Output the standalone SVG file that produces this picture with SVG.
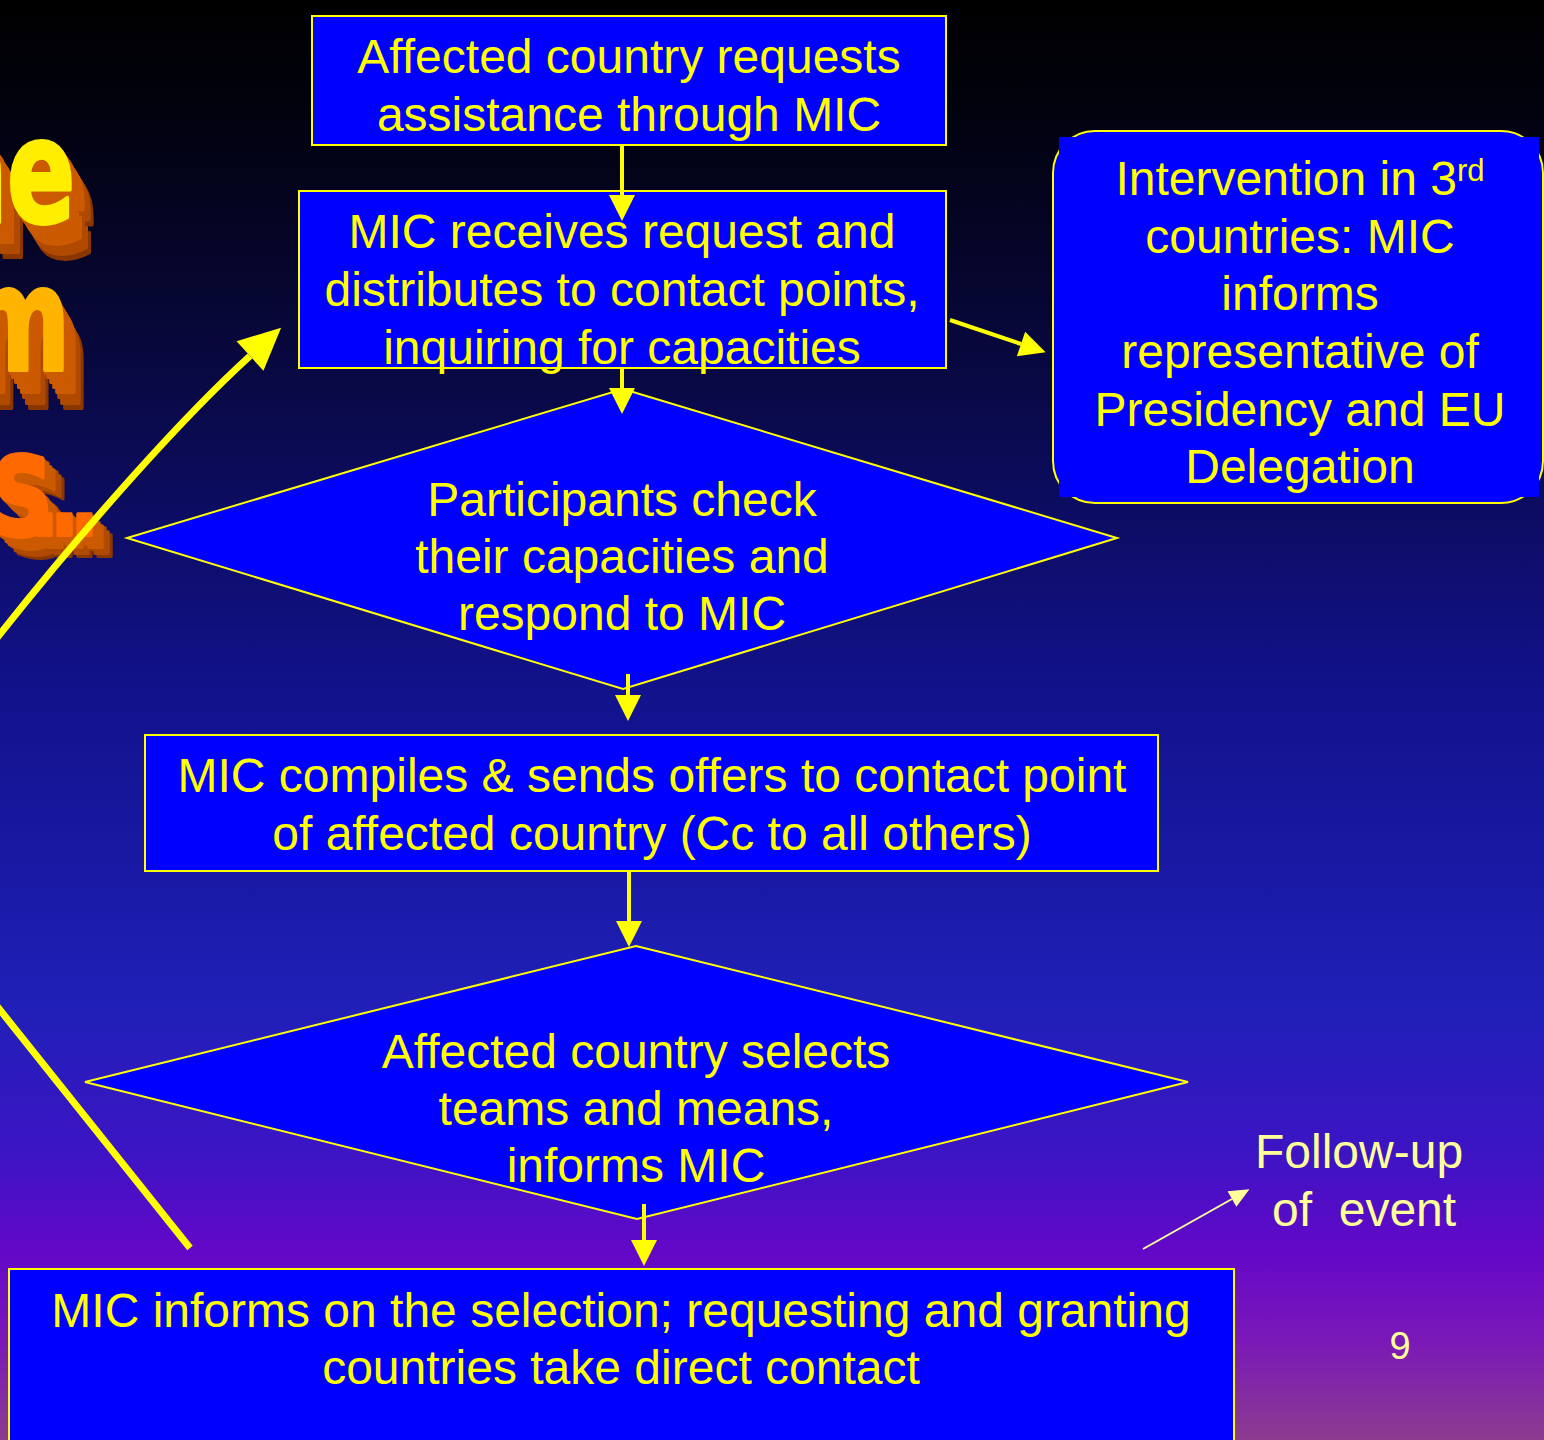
<svg xmlns="http://www.w3.org/2000/svg" xmlns:xlink="http://www.w3.org/1999/xlink" width="1544" height="1440" viewBox="0 0 1544 1440">
<defs>
<linearGradient id="bg" x1="0" y1="0" x2="0" y2="1">
<stop offset="0" stop-color="#000000"/>
<stop offset="0.08" stop-color="#02020f"/>
<stop offset="0.2" stop-color="#060630"/>
<stop offset="0.3" stop-color="#0a0a50"/>
<stop offset="0.48" stop-color="#12128c"/>
<stop offset="0.62" stop-color="#1a1aa8"/>
<stop offset="0.7" stop-color="#2020b8"/>
<stop offset="0.8" stop-color="#3c14c4"/>
<stop offset="0.87" stop-color="#6408c8"/>
<stop offset="0.93" stop-color="#7a18b8"/>
<stop offset="1" stop-color="#8c3c90"/>
</linearGradient>
<marker id="ah" viewBox="0 -16 32 32" markerWidth="32" markerHeight="32" refX="0" refY="0" orient="auto" markerUnits="userSpaceOnUse" overflow="visible">
<path d="M0,-13 L26,0 L0,13 Z" fill="#ffff00"/>
</marker>
<marker id="ahBig" viewBox="0 -24 48 48" markerWidth="48" markerHeight="48" refX="0" refY="0" orient="auto" markerUnits="userSpaceOnUse" overflow="visible">
<path d="M0,-20 L42,0 L0,20 Z" fill="#ffff00"/>
</marker>
<marker id="ahThin" viewBox="0 -12 24 24" markerWidth="24" markerHeight="24" refX="0" refY="0" orient="auto" markerUnits="userSpaceOnUse" overflow="visible">
<path d="M0,-9 L20,0 L0,9 Z" fill="#ffff99"/>
</marker>
<text id="w1" x="0" y="0" class="wa">ne</text>
<text id="w2" x="0" y="0" class="wa">m</text>
<text id="w3" y="0" class="wa ws"><tspan x="-8">s</tspan><tspan x="30" font-size="85">.</tspan><tspan x="50" font-size="85">.</tspan><tspan x="70" font-size="85">.</tspan></text>
</defs>
<style>
.box{fill:#0000ff;stroke:#ffff00;stroke-width:2}
.t{font-family:"Liberation Sans",Arial,sans-serif;font-size:48px;fill:#ffff00;text-anchor:middle}
.p{font-family:"Liberation Sans",Arial,sans-serif;font-size:48px;fill:#ffff99}
.wa{font-family:"Liberation Sans Narrow","DejaVu Sans Condensed",sans-serif;font-stretch:condensed;font-weight:bold;font-size:111px;text-anchor:end;stroke-width:3;stroke-linejoin:round}
.ws{text-anchor:start}
.ln{stroke:#ffff00;stroke-width:4;fill:none}
.ex1{fill:#8a3600;stroke:#8a3600}
.ex2{fill:#b04a00;stroke:#b04a00}
.ex3{fill:#cc5a00;stroke:#cc5a00}
.f1{fill:#ffee00;stroke:#ffee00}
.f2{fill:#ffb400;stroke:#ffb400}
.f3{fill:#ff6a00;stroke:#ff6a00}
</style>
<rect x="0" y="0" width="1544" height="1440" fill="url(#bg)"/>

<g id="wordart">
<g transform="translate(75,222) scale(1,1.3)">
<use xlink:href="#w1" x="22" y="27" class="ex1"/>
<use xlink:href="#w1" x="19" y="23" class="ex2"/>
<use xlink:href="#w1" x="16" y="19" class="ex2"/>
<use xlink:href="#w1" x="13" y="15" class="ex3"/>
<use xlink:href="#w1" x="10" y="12" class="ex3"/>
<use xlink:href="#w1" x="7" y="8" class="ex3"/>
<use xlink:href="#w1" x="4" y="5" class="ex3"/>
<use xlink:href="#w1" x="2" y="2" class="ex3"/>
<use xlink:href="#w1" class="f1"/>
</g>
<g transform="translate(70,370) scale(1,1.3)">
<use xlink:href="#w2" x="20" y="29" class="ex1"/>
<use xlink:href="#w2" x="17" y="25" class="ex2"/>
<use xlink:href="#w2" x="14" y="21" class="ex2"/>
<use xlink:href="#w2" x="12" y="17" class="ex3"/>
<use xlink:href="#w2" x="9" y="13" class="ex3"/>
<use xlink:href="#w2" x="6" y="9" class="ex3"/>
<use xlink:href="#w2" x="3" y="5" class="ex3"/>
<use xlink:href="#w2" x="1" y="2" class="ex3"/>
<use xlink:href="#w2" class="f2"/>
</g>
<g transform="translate(0,535) scale(1,1.3)">
<use xlink:href="#w3" x="20" y="16" class="ex1"/>
<use xlink:href="#w3" x="17" y="14" class="ex2"/>
<use xlink:href="#w3" x="14" y="11" class="ex2"/>
<use xlink:href="#w3" x="11" y="9" class="ex3"/>
<use xlink:href="#w3" x="8" y="7" class="ex3"/>
<use xlink:href="#w3" x="5" y="4" class="ex3"/>
<use xlink:href="#w3" x="2" y="2" class="ex3"/>
<use xlink:href="#w3" class="f3"/>
</g>
</g>

<g id="n1">
<rect class="box" x="312" y="16" width="634" height="129"/>
<text class="t" x="629" y="73">Affected country requests</text>
<text class="t" x="629" y="131">assistance through MIC</text>
</g>
<g id="n2">
<rect class="box" x="299" y="191" width="647" height="177"/>
<text class="t" x="622" y="248">MIC receives request and</text>
<text class="t" x="622" y="306">distributes to contact points,</text>
<text class="t" x="622" y="364">inquiring for capacities</text>
</g>
<g id="n3">
<polygon class="box" points="623,389 1117,538 623,689 127,538"/>
<text class="t" x="622" y="516">Participants check</text>
<text class="t" x="622" y="573">their capacities and</text>
<text class="t" x="622" y="630">respond to MIC</text>
</g>
<g id="n4">
<rect class="box" x="145" y="735" width="1013" height="136"/>
<text class="t" x="652" y="792">MIC compiles &amp; sends offers to contact point</text>
<text class="t" x="652" y="850">of affected country (Cc to all others)</text>
</g>
<g id="n5">
<polygon class="box" points="636,946 1188,1082 637,1219 85,1082"/>
<text class="t" x="636" y="1068">Affected country selects</text>
<text class="t" x="636" y="1125">teams and means,</text>
<text class="t" x="636" y="1182">informs MIC</text>
</g>
<g id="n6">
<rect class="box" x="9" y="1269" width="1225" height="200"/>
<text class="t" x="621" y="1327">MIC informs on the selection; requesting and granting</text>
<text class="t" x="621" y="1384">countries take direct contact</text>
</g>
<g id="n7">
<rect x="1053" y="131" width="490" height="372" rx="42" ry="42" fill="#0000ff" stroke="#ffff00" stroke-width="2"/>
<rect x="1059" y="137" width="480" height="360" fill="#0000ff"/>
<text class="t" x="1300" y="195">Intervention in 3<tspan font-size="31" dy="-14">rd</tspan></text>
<text class="t" x="1300" y="253">countries: MIC</text>
<text class="t" x="1300" y="310">informs</text>
<text class="t" x="1300" y="368">representative of</text>
<text class="t" x="1300" y="426">Presidency and EU</text>
<text class="t" x="1300" y="483">Delegation</text>
</g>
<g id="n8">
<text class="p" x="1255" y="1168">Follow-up</text>
<text class="p" x="1272" y="1226" style="white-space:pre">of  event</text>
</g>
<g id="pagenum">
<text x="1400" y="1359" font-family="Liberation Sans, Arial, sans-serif" font-size="38" fill="#ffff99" text-anchor="middle">9</text>
</g>

<g id="connectors">
<line class="ln" x1="622" y1="145" x2="622" y2="195" marker-end="url(#ah)"/>
<line class="ln" x1="622" y1="368" x2="622" y2="388" marker-end="url(#ah)"/>
<line class="ln" x1="628" y1="674" x2="628" y2="695" marker-end="url(#ah)"/>
<line class="ln" x1="629" y1="871" x2="629" y2="921" marker-end="url(#ah)"/>
<line class="ln" x1="644" y1="1204" x2="644" y2="1240" marker-end="url(#ah)"/>
<line class="ln" x1="950" y1="320" x2="1021" y2="344" marker-end="url(#ah)"/>
<line x1="1143" y1="1249" x2="1232" y2="1199" stroke="#ffff99" stroke-width="2" marker-end="url(#ahThin)"/>
<path d="M190,1248 L0,1010 Q-150,822 0,634 C90,521 185,415 250,356" fill="none" stroke="#ffff00" stroke-width="7" marker-end="url(#ahBig)"/>
</g>
</svg>
